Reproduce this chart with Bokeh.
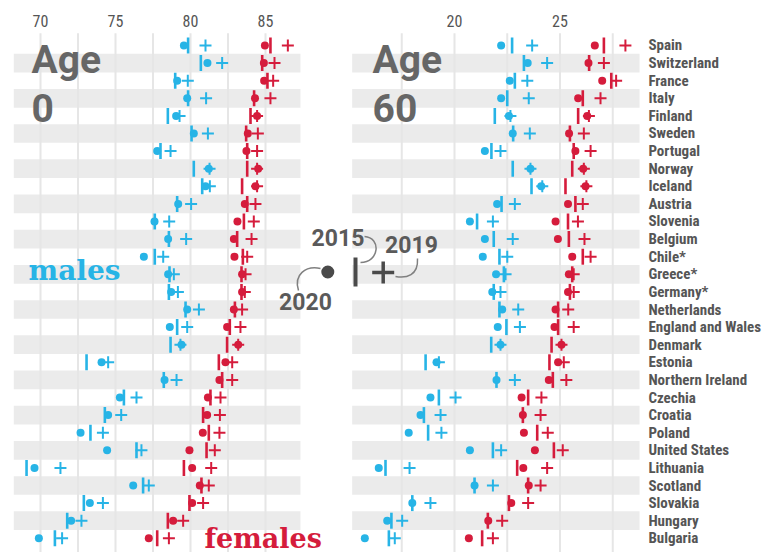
import numpy as np
from bokeh.plotting import figure
from bokeh.models import Range1d
from bokeh.core.properties import value
from bokeh.embed import file_html
from bokeh.resources import INLINE

countries = ["Spain", "Switzerland", "France", "Italy", "Finland", "Sweden", "Portugal",
             "Norway", "Iceland", "Austria", "Slovenia", "Belgium", "Chile*", "Greece*",
             "Germany*", "Netherlands", "England and Wales", "Denmark", "Estonia",
             "Northern Ireland", "Czechia", "Croatia", "Poland", "United States",
             "Lithuania", "Scotland", "Slovakia", "Hungary", "Bulgaria"]

# Life expectancy at birth (age 0)
m0_2015 = [79.84, 80.69, 78.98, 79.84, 78.49, 80.07, 78.00, 80.22, 80.78, 79.11, 77.62, 78.56,
           77.62, 78.60, 78.56, 79.67, 79.11, 78.67, 73.07, 78.22, 75.56, 74.29, 73.33, 76.40,
           69.07, 76.84, 72.89, 71.78, 70.96]
m0_2019 = [81.00, 82.11, 79.82, 81.04, 79.27, 81.16, 78.67, 81.27, 81.29, 80.04, 78.58, 79.71,
           78.18, 78.89, 79.16, 80.56, 79.78, 79.33, 74.51, 79.07, 76.40, 75.38, 74.16, 76.73,
           71.33, 77.22, 74.16, 72.73, 71.44]
m0_2020 = [79.56, 81.13, 79.11, 79.78, 79.04, 80.22, 77.78, 81.22, 81.00, 79.18, 77.60, 78.51,
           76.89, 78.51, 78.71, 79.78, 78.62, 79.40, 74.07, 78.27, 75.29, 74.51, 72.67, 74.44,
           69.60, 76.18, 73.29, 72.04, 69.89]
f0_2015 = [85.33, 84.78, 85.13, 84.24, 84.00, 83.71, 83.78, 83.78, 83.44, 83.78, 83.56, 83.11,
           83.49, 83.40, 83.40, 82.96, 82.62, 82.44, 81.89, 82.11, 81.33, 80.84, 81.22, 81.07,
           79.56, 80.73, 79.93, 78.49, 77.78]
f0_2019 = [86.49, 85.60, 85.51, 85.33, 84.44, 84.49, 84.44, 84.44, 84.44, 84.33, 84.22, 84.07,
           83.78, 83.67, 83.62, 83.44, 83.33, 83.18, 82.78, 82.78, 82.00, 81.96, 81.93, 81.62,
           81.38, 81.22, 80.84, 79.51, 78.56]
f0_2020 = [84.96, 84.89, 84.91, 84.30, 84.44, 83.82, 83.73, 84.51, 84.33, 83.62, 83.13, 82.89,
           82.93, 83.44, 83.44, 82.89, 82.44, 83.18, 82.33, 81.93, 81.16, 81.11, 80.82, 79.93,
           80.11, 80.62, 80.11, 78.84, 77.22]

# Life expectancy at age 60
m60_2015 = [22.73, 23.29, 22.86, 22.50, 21.91, 22.78, 21.75, 22.76, 23.65, 22.23, 21.07, 21.86,
            22.13, 22.34, 21.86, 22.13, 22.46, 21.74, 18.63, 21.99, 19.26, 18.55, 18.75, 21.82,
            16.73, 20.95, 18.00, 17.01, 16.89]
m60_2019 = [23.68, 24.39, 23.45, 23.52, 22.65, 23.57, 22.18, 23.60, 24.16, 22.86, 21.82, 22.76,
            22.50, 22.42, 22.18, 23.02, 23.10, 22.18, 19.26, 22.86, 20.05, 19.34, 19.38, 22.21,
            17.87, 21.82, 18.86, 17.52, 17.17]
m60_2020 = [22.21, 23.47, 22.62, 22.21, 22.58, 22.76, 21.44, 23.60, 24.11, 22.02, 20.73, 21.44,
            21.34, 21.97, 21.79, 22.26, 22.05, 22.18, 19.15, 21.99, 18.86, 18.39, 17.83, 20.73,
            16.41, 20.95, 18.00, 16.81, 15.75]
f60_2015 = [27.08, 26.38, 27.43, 26.08, 25.86, 25.47, 25.65, 25.58, 25.26, 25.73, 25.38, 25.42,
            26.08, 25.58, 25.47, 24.91, 24.91, 24.60, 24.50, 24.66, 23.49, 23.24, 23.92, 24.71,
            22.97, 23.49, 22.58, 21.58, 21.31]
f60_2019 = [28.10, 27.08, 27.66, 26.92, 26.37, 26.13, 26.45, 26.13, 26.25, 26.08, 25.85, 26.16,
            26.45, 25.65, 25.65, 25.39, 25.65, 25.07, 25.18, 25.30, 24.12, 24.08, 24.42, 25.13,
            24.39, 24.08, 23.49, 22.26, 21.82]
f60_2020 = [26.65, 26.35, 27.00, 25.86, 26.29, 25.43, 25.73, 26.10, 26.21, 25.38, 24.79, 24.90,
            25.58, 25.42, 25.38, 24.79, 24.74, 25.07, 24.91, 24.47, 23.18, 23.24, 23.29, 23.81,
            23.26, 23.52, 22.69, 21.60, 20.68]

left_ticks = [70, 75, 80, 85]
right_ticks = [20, 25]
left_grid = [70, 72.5, 75, 77.5, 80, 82.5, 85]
right_grid = [17.5, 20, 22.5, 25, 27.5]

BLUE = "#27b4e6"
RED = "#d51c3c"
GRAY_TXT = "#555555"
COND = value("Roboto Condensed, Roboto")
ROBOTO = value("Roboto")

W, H = 764, 552
p = figure(width=W, height=H, output_backend="svg", toolbar_location=None,
           x_range=Range1d(67.3333, 118.2667), y_range=Range1d(28.8068, -2.5568),
           x_axis_location=None, y_axis_location=None,
           min_border=0, min_border_left=0, min_border_right=0,
           min_border_top=0, min_border_bottom=0, outline_line_color=None,
           background_fill_color="white", border_fill_color="white")
p.extra_x_ranges = {"r": Range1d(-1.5166, 34.6919), "px": Range1d(0, W)}
p.extra_y_ranges = {"px": Range1d(H, 0)}
p.grid.visible = False

n = len(countries)
rows = list(range(n))
band_rows = rows[1::2]

# alternating bands
p.quad(left=68.22, right=87.33, top=[r - 0.53 for r in band_rows],
       bottom=[r + 0.53 for r in band_rows], fill_color="#ebebeb", line_color=None)
p.quad(left=15.15, right=28.77, top=[r - 0.53 for r in band_rows],
       bottom=[r + 0.53 for r in band_rows], fill_color="#ebebeb", line_color=None,
       x_range_name="r")

# grid lines
p.segment(x0=left_grid, x1=left_grid, y0=-0.7, y1=29.5, line_color="#e6e6e6", line_width=2)
p.segment(x0=right_grid, x1=right_grid, y0=-0.7, y1=29.5, line_color="#e6e6e6", line_width=2,
          x_range_name="r")

# tick labels
p.text(x=left_ticks, y=[-1.42] * len(left_ticks), text=[str(t) for t in left_ticks],
       text_align="center", text_baseline="middle", text_font=COND,
       text_font_size="16px", text_color=GRAY_TXT)
p.text(x=right_ticks, y=[-1.42] * len(right_ticks), text=[str(t) for t in right_ticks],
       text_align="center", text_baseline="middle", text_font=COND,
       text_font_size="16px", text_color=GRAY_TXT, x_range_name="r")


def draw(v15, v19, v20, color, rn):
    kw = {} if rn is None else {"x_range_name": rn}
    p.scatter(x=v15, y=rows, marker="dash", angle=np.pi / 2, size=16,
              line_color=color, line_width=2.6, **kw)
    p.scatter(x=v20, y=rows, marker="circle", size=8, fill_color=color,
              line_color=None, **kw)
    p.scatter(x=v19, y=rows, marker="cross", size=12, line_color=color,
              line_width=2, **kw)


draw(m0_2015, m0_2019, m0_2020, BLUE, None)
draw(f0_2015, f0_2019, f0_2020, RED, None)
draw(m60_2015, m60_2019, m60_2020, BLUE, "r")
draw(f60_2015, f60_2019, f60_2020, RED, "r")

# country labels
p.text(x=[29.19] * n, y=rows, text=countries, text_align="left", text_baseline="middle",
       text_font=COND, text_font_style="bold", text_font_size="15px",
       text_color=GRAY_TXT, x_range_name="r")

PX = {"x_range_name": "px", "y_range_name": "px"}

# big panel titles
p.text(x=[31, 31], y=[59, 107], text=["Age", "0"], text_font=ROBOTO,
       text_font_style="bold", text_font_size="39px", text_color="#666666",
       text_baseline="alphabetic", **PX)
p.text(x=[372, 372], y=[59, 107], text=["Age", "60"], text_font=ROBOTO,
       text_font_style="bold", text_font_size="39px", text_color="#666666",
       text_baseline="alphabetic", **PX)

# sex labels
p.text(x=[28], y=[270], text=["males"], text_font=value("DejaVu Serif"),
       text_font_style="bold", text_font_size="28px", text_color=BLUE,
       text_baseline="alphabetic", **PX)
p.text(x=[204], y=[537.5], text=["females"], text_font=value("DejaVu Serif"),
       text_font_style="bold", text_font_size="27px", text_color=RED,
       text_baseline="alphabetic", **PX)

# legend (key) in the middle
LEG = "#4a4a4a"
p.text(x=[337.5, 411, 305], y=[236.5, 244, 301], text=["2015", "2019", "2020"],
       text_align="center", text_baseline="middle", text_font=ROBOTO,
       text_font_style="bold", text_font_size="23px", text_color="#5a5a5a", **PX)
p.scatter(x=[327.3], y=[271.5], marker="circle", size=13, fill_color=LEG, line_color=None, **PX)
p.segment(x0=[355], x1=[355], y0=[257], y1=[286], line_color=LEG, line_width=4, **PX)
p.scatter(x=[382.7], y=[272], marker="cross", size=22, line_color=LEG, line_width=3.5, **PX)
p.bezier(x0=[364, 417, 298], y0=[236, 258, 290],
         x1=[360, 395, 320], y1=[262, 276, 268],
         cx0=[381, 418, 293], cy0=[237, 275, 274],
         cx1=[379, 406, 305], cy1=[262, 278, 265],
         line_color="#808080", line_width=1.5, **PX)

open("out.html", "w").write(file_html(p, INLINE))
